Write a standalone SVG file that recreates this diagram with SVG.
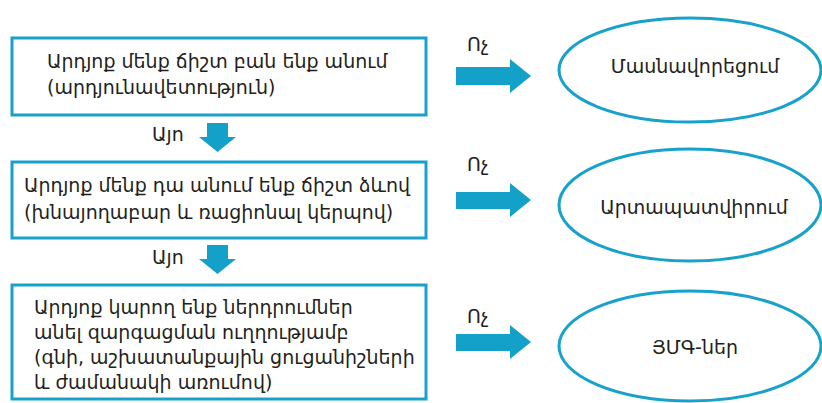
<svg xmlns="http://www.w3.org/2000/svg" width="822" height="403" viewBox="0 0 822 403">
  <style>
    .box { fill: #ffffff; stroke: #18a2cb; stroke-width: 3; }
    .oval { fill: #ffffff; stroke: #18a2cb; stroke-width: 3; }
    .t { font-family: "DejaVu Sans", "Noto Sans", sans-serif; font-size: 19px; fill: #231f20; }
    .c { text-anchor: middle; }
    .arrow { fill: #13a1ca; }
  </style>
  <rect width="822" height="403" fill="#ffffff"/>

  <g id="q1">
    <rect class="box" x="12" y="38" width="414" height="77"/>
    <text class="t" x="47" y="68">Արդյոք մենք ճիշտ բան ենք անում</text>
    <text class="t" x="47" y="94">(արդյունավետություն)</text>
  </g>

  <g id="q2">
    <rect class="box" x="12" y="162" width="414" height="76"/>
    <text class="t" x="24" y="192">Արդյոք մենք դա անում ենք ճիշտ ձևով</text>
    <text class="t" x="24" y="219">(խնայողաբար և ռացիոնալ կերպով)</text>
  </g>

  <g id="q3">
    <rect class="box" x="12" y="285" width="414" height="114"/>
    <text class="t" x="34" y="314">Արդյոք կարող ենք ներդրումներ</text>
    <text class="t" x="34" y="339">անել զարգացման ուղղությամբ</text>
    <text class="t" x="34" y="364">(գնի, աշխատանքային ցուցանիշների</text>
    <text class="t" x="34" y="389">և ժամանակի առումով)</text>
  </g>

  <g id="r1">
    <ellipse class="oval" cx="690" cy="70" rx="131" ry="52"/>
    <text class="t c" x="695" y="73">Մասնավորեցում</text>
  </g>

  <g id="r2">
    <ellipse class="oval" cx="690" cy="205" rx="131" ry="56"/>
    <text class="t c" x="694" y="214">Արտապատվիրում</text>
  </g>

  <g id="r3">
    <ellipse class="oval" cx="690" cy="346" rx="131" ry="55"/>
    <text class="t c" x="695" y="354">ՅՄԳ-ներ</text>
  </g>

  <g id="connectors">
    <!-- downward "yes" arrows -->
    <polygon class="arrow" points="207,123 228,123 228,137 236,137 217.5,152 199,137 207,137"/>
    <text class="t" x="152" y="141">Այո</text>
    <polygon class="arrow" points="207,245 228,245 228,259 236,259 217.5,274 199,259 207,259"/>
    <text class="t" x="152" y="264">Այո</text>

    <!-- rightward "no" arrows -->
    <polygon class="arrow" points="456,67 510,67 510,59 531,76 510,93 510,85 456,85"/>
    <text class="t" x="467" y="51">Ոչ</text>
    <polygon class="arrow" points="456,192 510,192 510,183 531,200 510,217 510,209 456,209"/>
    <text class="t" x="467" y="171">Ոչ</text>
    <polygon class="arrow" points="456,334 510,334 510,325 531,342 510,359 510,351 456,351"/>
    <text class="t" x="467" y="323">Ոչ</text>
  </g>
</svg>
